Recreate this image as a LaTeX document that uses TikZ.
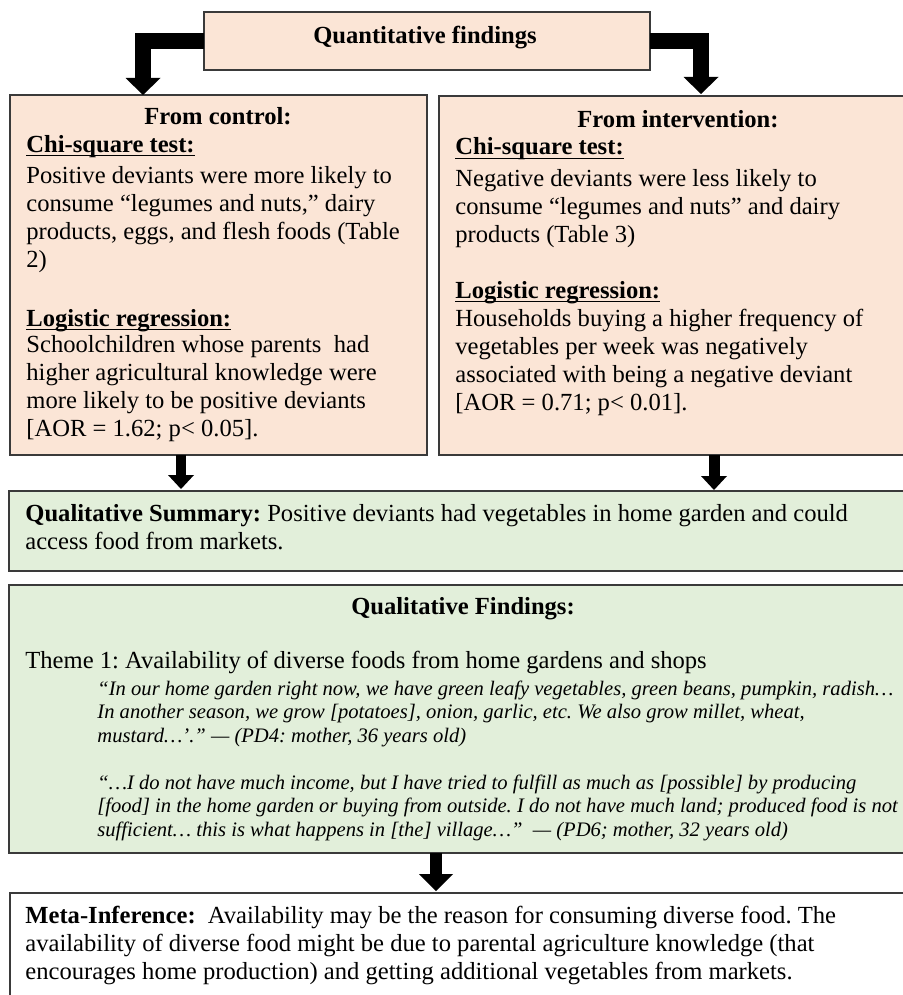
\documentclass[tikz,border=0pt]{standalone}
\usepackage{fontspec}
\setmainfont{Liberation Serif}
\usetikzlibrary{arrows.meta}
\definecolor{quantpeach}{HTML}{FBE5D6}
\definecolor{qualgreen}{HTML}{E2EFDA}
\definecolor{edgegray}{HTML}{3A3A3A}
\frenchspacing
\newcommand{\bodysize}{\fontsize{12.3}{14}\selectfont}
\newcommand{\quotesize}{\fontsize{10.3}{11.75}\selectfont}
\newcommand{\headline}[1]{\setbox0\hbox{\textbf{#1}}\rlap{\rule[-2.2pt]{\wd0}{0.6pt}}\box0}
\tikzset{
	panel/.style={draw=edgegray, line width=0.7pt, anchor=north west, inner sep=0pt, outer sep=0pt},
	plaintext/.style={anchor=base west, align=left, inner sep=0pt, font=\bodysize},
	quotetext/.style={plaintext, font=\quotesize\itshape},
	boxtitle/.style={anchor=base, inner sep=0pt, font=\bodysize\bfseries},
	blockarrow/.style n args={3}{draw=black, line width=#1, -{Triangle[width=#2, length=#3, line width=0pt]}}
}

\begin{document}
\begin{tikzpicture}[x=0.5pt,y=-0.5pt]
	% Fixed canvas; the right-hand boxes run past the page edge.
	\useasboundingbox (0,0) rectangle (903,995);
	\clip (0,0) rectangle (903,995);
	\fill[white] (0,0) rectangle (903,995);

	% Boxes.
	\node[panel, fill=quantpeach, minimum width=223pt, minimum height=29pt] (quant) at (204,12) {};
	\node[panel, fill=quantpeach, minimum width=208.5pt, minimum height=180pt] (ctl) at (10,95) {};
	\node[panel, fill=quantpeach, minimum width=240pt, minimum height=179.5pt] (intv) at (439,96) {};
	\node[panel, fill=qualgreen, minimum width=460pt, minimum height=40pt] (summ) at (9,491) {};
	\node[panel, fill=qualgreen, minimum width=460pt, minimum height=134pt] (find) at (9,585) {};
	\node[panel, fill=white, minimum width=460pt, minimum height=70pt] (meta) at (10,893) {};

	% Block arrows.
	\coordinate (ctltip) at (143,95);
	\coordinate (intvtip) at (701,94);
	\coordinate (summtipL) at (181,489);
	\coordinate (summtipR) at (714,490);
	\coordinate (metatip) at (436,891);
	\draw[blockarrow={8pt}{17.5pt}{8.5pt}] (quant.west) -| (ctltip);
	\draw[blockarrow={8pt}{17.5pt}{8.5pt}] (quant.east) -| (intvtip);
	\draw[blockarrow={5.25pt}{13pt}{7pt}] (ctl.south -| summtipL) -- (summtipL);
	\draw[blockarrow={5.5pt}{13pt}{7pt}] (intv.south -| summtipR) -- (summtipR);
	\draw[blockarrow={6pt}{17pt}{8.5pt}] (find.south -| metatip) -- (metatip);

	% Quantitative side (multi-line texts sit on their last baseline).
	\node[boxtitle] (quanttitle) at (425,44) {Quantitative findings};

	\node[boxtitle] (ctltitle) at (218,125) {From control:};
	\node[plaintext] (ctlchi) at (26,152) {\headline{Chi-square test:}};
	\node[plaintext] (ctlchitext) at (26,267)
		{Positive deviants were more likely to\\
		consume “legumes and nuts,” dairy\\
		products, eggs, and flesh foods (Table\\
		2)};
	\node[plaintext] (ctllog) at (26,326) {\headline{Logistic regression:}};
	\node[plaintext] (ctllogtext) at (26,436)
		{Schoolchildren whose parents\ \ had\\
		higher agricultural knowledge were\\
		more likely to be positive deviants\\
		{[AOR = 1.62; p< 0.05].}};

	\node[boxtitle] (intvtitle) at (678,127) {From intervention:};
	\node[plaintext] (intvchi) at (455,155) {\headline{Chi-square test:}};
	\node[plaintext] (intvchitext) at (455,242)
		{Negative deviants were less likely to\\
		consume “legumes and nuts” and dairy\\
		products (Table 3)};
	\node[plaintext] (intvlog) at (455,298) {\headline{Logistic regression:}};
	\node[plaintext] (intvlogtext) at (455,410)
		{Households buying a higher frequency of\\
		vegetables per week was negatively\\
		associated with being a negative deviant\\
		{[AOR = 0.71; p< 0.01].}};

	% Qualitative side.
	\node[plaintext] (summtext) at (25,549)
		{\textbf{Qualitative Summary:} Positive deviants had vegetables in home garden and could\\
		access food from markets.};

	\node[boxtitle] (findtitle) at (463,614) {Qualitative Findings:};
	\node[plaintext] (theme) at (25,668)
		{Theme 1: Availability of diverse foods from home gardens and shops};
	\node[quotetext] (quotepd4) at (97,742)
		{“In our home garden right now, we have green leafy vegetables, green beans, pumpkin, radish…\\
		In another season, we grow [potatoes], onion, garlic, etc. We also grow millet, wheat,\\
		mustard…’.” — (PD4: mother, 36 years old)};
	\node[quotetext] (quotepd6) at (97,836)
		{“…I do not have much income, but I have tried to fulfill as much as [possible] by producing\\
		{[food]} in the home garden or buying from outside. I do not have much land; produced food is not\\
		sufficient… this is what happens in [the] village…”\ \ — (PD6; mother, 32 years old)};

	\node[plaintext] (metatext) at (25,979)
		{\textbf{Meta-Inference:}\ \ Availability may be the reason for consuming diverse food. The\\
		availability of diverse food might be due to parental agriculture knowledge (that\\
		encourages home production) and getting additional vegetables from markets.};
\end{tikzpicture}
\end{document}
